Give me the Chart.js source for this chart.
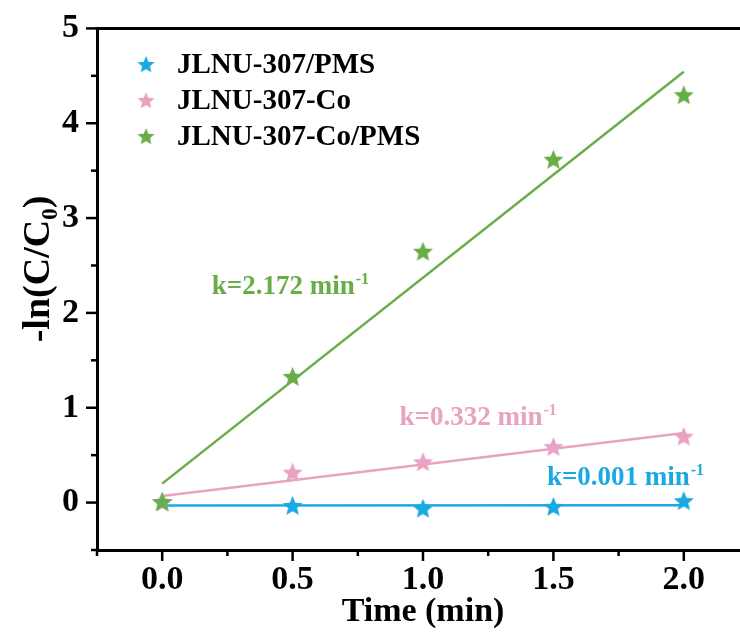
<!DOCTYPE html>
<html>
<head>
<meta charset="utf-8">
<script src="https://cdn.jsdelivr.net/npm/chart.js@4"></script>
<style>
  html, body { margin: 0; padding: 0; background: #fff; overflow: hidden; }
  #wrap { width: 760px; height: 635px; }
</style>
</head>
<body>
<div id="wrap"><canvas id="kinetics"></canvas></div>
<script>
// data
const times = [0, 0.5, 1.0, 1.5, 2.0];
const seriesNames = ['JLNU-307/PMS', 'JLNU-307-Co', 'JLNU-307-Co/PMS'];
const pmsOnly = [0, -0.04, -0.07, -0.05, 0.01];
const coOnly = [0, 0.31, 0.42, 0.58, 0.69];
const coPms = [0, 1.32, 2.64, 3.61, 4.29];
const rateK = [0.001, 0.332, 2.172];
const fitIntercept = [-0.03, 0.07, 0.2];
const kLabels = ['k=0.001 min', 'k=0.332 min', 'k=2.172 min'];
const xTickLabels = ['0.0', '0.5', '1.0', '1.5', '2.0'];
const yTickLabels = ['0', '1', '2', '3', '4', '5'];

const colors = ['#1aa9e1', '#e9a2c1', '#69ad48'];
const serif = '"Liberation Serif", "Times New Roman", serif';

// filled five point star used as point style
function makeStar(color, size) {
    const c = document.createElement('canvas');
    c.width = size;
    c.height = size;
    const g = c.getContext('2d');
    const R = size / 2, r = R * 0.45;
    g.fillStyle = color;
    g.beginPath();
    for (let i = 0; i < 10; i++) {
        const ang = -Math.PI / 2 + i * Math.PI / 5;
        const rad = i % 2 === 0 ? R : r;
        g.lineTo(R + rad * Math.cos(ang), R + rad * Math.sin(ang));
    }
    g.closePath();
    g.fill();
    return c;
}
const stars = colors.map(c => makeStar(c, 21));

const seriesData = [pmsOnly, coOnly, coPms];

const isMajorX = v => Math.abs(v * 2 - Math.round(v * 2)) < 1e-6 && v > -1e-6 && v < 2 + 1e-6;
const isMajorY = v => Math.abs(v - Math.round(v)) < 1e-6 && v > -1e-6;

// points: green on top, then pink, then blue; fit lines below
const datasets = [];
[2, 1, 0].forEach((s, i) => {
    datasets.push({
        type: 'scatter',
        label: seriesNames[s],
        data: times.map((t, j) => ({ x: t, y: seriesData[s][j] })),
        pointStyle: stars[s],
        pointRadius: 10,
        order: i
    });
});
[0, 1, 2].forEach(s => {
    datasets.push({
        type: 'line',
        label: 'fit ' + seriesNames[s],
        data: [times[0], times[times.length - 1]].map(t => ({ x: t, y: fitIntercept[s] + rateK[s] * t })),
        borderColor: colors[s],
        borderWidth: 2.5,
        pointRadius: 0,
        fill: false,
        order: 5
    });
});

// where the k labels sit (data coords, baseline-left)
const kPos = [[1.475, 0.19], [0.91, 0.82], [0.19, 2.2]];

const decor = {
    id: 'decor',
    afterDraw(chart) {
        const { ctx, chartArea: a, scales: { x, y } } = chart;
        ctx.save();
        ctx.strokeStyle = '#000';
        ctx.lineWidth = 3;
        ctx.beginPath();
        ctx.moveTo(a.left - 1.5, a.top);
        ctx.lineTo(a.right, a.top);
        ctx.lineTo(a.right, a.bottom);
        ctx.stroke();

        // major + minor ticks
        ctx.lineWidth = 2.5;
        x.ticks.forEach(t => {
            const px = x.getPixelForValue(t.value);
            const len = isMajorX(t.value) ? 11 : 6;
            ctx.beginPath();
            ctx.moveTo(px, a.bottom);
            ctx.lineTo(px, a.bottom + len);
            ctx.stroke();
        });
        y.ticks.forEach(t => {
            const py = y.getPixelForValue(t.value);
            const len = isMajorY(t.value) ? 11 : 6;
            ctx.beginPath();
            ctx.moveTo(a.left, py);
            ctx.lineTo(a.left - len, py);
            ctx.stroke();
        });

        // legend
        ctx.textBaseline = 'middle';
        ctx.textAlign = 'left';
        ctx.font = 'bold 29px ' + serif;
        ctx.fillStyle = '#000';
        seriesNames.forEach((name, i) => {
            const cy = 65 + i * 36;
            ctx.drawImage(stars[i], 137, cy - 9, 18, 18);
            ctx.fillText(name, 177, cy + 1);
        });

        // rate constant labels
        ctx.textBaseline = 'alphabetic';
        kLabels.forEach((txt, i) => {
            const px = x.getPixelForValue(kPos[i][0]);
            const py = y.getPixelForValue(kPos[i][1]);
            ctx.fillStyle = colors[i];
            ctx.font = 'bold 27px ' + serif;
            ctx.fillText(txt, px, py);
            const w = ctx.measureText(txt).width;
            ctx.font = 'bold 16px ' + serif;
            ctx.fillText('-1', px + w + 1, py - 10);
        });

        // y axis title with subscript
        ctx.fillStyle = '#000';
        ctx.translate(49, 269);
        ctx.rotate(-Math.PI / 2);
        const big = 'bold 38px ' + serif, small = 'bold 23px ' + serif;
        ctx.font = big;
        const w1 = ctx.measureText('-ln(C/C').width;
        const w3 = ctx.measureText(')').width;
        ctx.font = small;
        const w2 = ctx.measureText('0').width;
        let sx = -(w1 + w2 + w3) / 2;
        ctx.font = big;
        ctx.fillText('-ln(C/C', sx, 0);
        ctx.font = small;
        ctx.fillText('0', sx + w1, 8);
        ctx.font = big;
        ctx.fillText(')', sx + w1 + w2, 0);
        ctx.restore();
    }
};

new Chart(document.getElementById('kinetics'), {
    type: 'scatter',
    data: { datasets: datasets },
    options: {
        responsive: true,
        maintainAspectRatio: false,
        animation: false,
        layout: { padding: { top: 25, right: 11, left: 0, bottom: 0 } },
        plugins: {
            legend: { display: false },
            tooltip: { enabled: false }
        },
        scales: {
            x: {
                type: 'linear',
                min: -0.25,
                max: 2.25,
                afterFit: s => { s.height = 85; },
                border: { color: '#000', width: 3 },
                grid: { drawOnChartArea: false, tickLength: 10, tickColor: 'rgba(0,0,0,0)' },
                ticks: {
                    stepSize: 0.25,
                    padding: 0,
                    color: '#000',
                    font: { family: serif, size: 34, weight: 'bold' },
                    callback: v => isMajorX(v) ? xTickLabels[Math.round(v * 2)] : ''
                },
                title: {
                    display: true,
                    text: 'Time (min)',
                    color: '#000',
                    font: { family: serif, size: 34, weight: 'bold' },
                    padding: { top: 0, bottom: 2 }
                }
            },
            y: {
                type: 'linear',
                min: -0.5,
                max: 5,
                afterFit: s => { s.width = 97; },
                border: { color: '#000', width: 3 },
                grid: { drawOnChartArea: false, tickLength: 10, tickColor: 'rgba(0,0,0,0)' },
                ticks: {
                    stepSize: 0.5,
                    padding: 8,
                    color: '#000',
                    font: { family: serif, size: 34, weight: 'bold' },
                    callback: v => isMajorY(v) ? yTickLabels[Math.round(v)] : ''
                }
            }
        }
    },
    plugins: [decor]
});
</script>
</body>
</html>
